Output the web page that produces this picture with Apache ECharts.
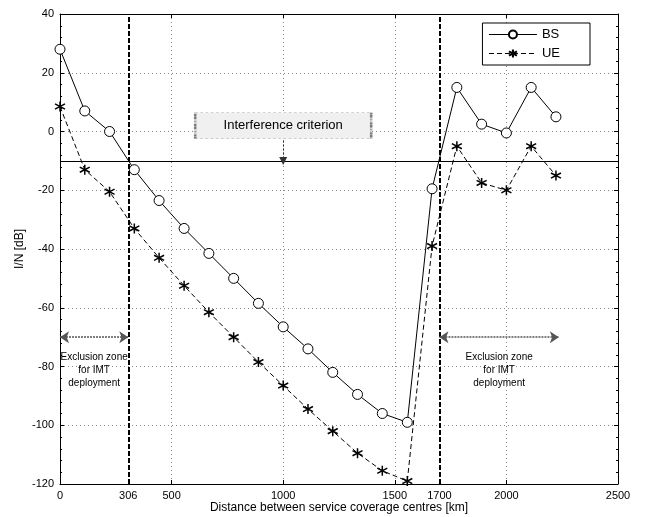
<!DOCTYPE html>
<html>
<head>
<meta charset="utf-8">
<script src="https://cdn.jsdelivr.net/npm/echarts@6/dist/echarts.min.js"></script>
<style>
  html, body { margin: 0; padding: 0; background: #fff; }
  #chart { width: 645px; height: 517px; }
</style>
</head>
<body>
<div id="chart"></div>
<script>
// data
const distances = [0, 111, 222, 333, 444, 556, 667, 778, 889, 1000, 1111, 1222, 1333, 1444, 1556, 1667, 1778, 1889, 2000, 2111, 2222]
const bsValues = [28, 7, 0, -13, -23.5, -33, -41.5, -50, -58.5, -66.5, -74, -82, -89.5, -96, -99, -19.5, 15, 2.5, -0.5, 15, 5]
const ueValues = [8.5, -13, -20.5, -33, -43, -52.5, -61.5, -70, -78.5, -86.5, -94.5, -102, -109.5, -115.5, -119, -39, -5, -17.5, -20, -5, -15]
const xTickLabels = [0, 306, 500, 1000, 1500, 1700, 2000, 2500]
const criterion = -10
const exclusionEdges = [306, 1700]
const rightZoneEnd = 2235
const zoneArrowLevel = -70

const font = 'Liberation Sans, Arial, sans-serif'
const star = 'path://M0,-5L0,5M-4.4,-2.6L4.4,2.6M-4.4,2.6L4.4,-2.6'

let chart = echarts.init(document.querySelector('#chart'))

function pairs(values) {
    return values.map((v, i) => [distances[i], v])
}

const gridLine = { show: true, lineStyle: { type: [1, 3], color: '#888', width: 1 } }
const frame = { show: true, onZero: false, lineStyle: { color: '#000', width: 1 } }
const ticks = { inside: true, length: 4, lineStyle: { color: '#000' } }
const minor = { show: true, splitNumber: 5, length: 2, lineStyle: { color: '#000' } }

const zoneLabel = {
    show: true, position: 'insideMiddleBottom', distance: 14,
    formatter: 'Exclusion zone\nfor IMT\ndeployment',
    fontSize: 10, lineHeight: 13, color: '#000', align: 'center'
}

let option = {
    backgroundColor: '#fff',
    animation: false,
    textStyle: { fontFamily: font },
    grid: { left: 60, right: 27, top: 14, bottom: 33, containLabel: false, outerBoundsMode: 'none' },
    legend: {
        right: 55,
        top: 23,
        orient: 'vertical',
        backgroundColor: '#fff',
        borderColor: '#000',
        borderWidth: 1,
        padding: [5, 30, 5, 6],
        itemGap: 6,
        itemWidth: 48,
        itemHeight: 10,
        lineStyle: { width: 1 },
        textStyle: { fontSize: 13, color: '#000', fontFamily: font },
        data: ['BS', 'UE']
    },
    xAxis: [{
        type: 'value',
        min: 0,
        max: 2500,
        interval: 500,
        name: 'Distance between service coverage centres [km]',
        nameLocation: 'middle',
        nameGap: 18,
        nameMoveOverlap: false,
        nameTextStyle: { fontSize: 12, color: '#000' },
        axisLine: frame,
        axisTick: ticks,
        axisLabel: { customValues: xTickLabels, formatter: (v) => String(v), fontSize: 11, color: '#000', margin: 6 },
        splitLine: gridLine
    }, {
        type: 'value',
        position: 'top',
        min: 0,
        max: 2500,
        interval: 500,
        axisLine: frame,
        axisTick: ticks,
        axisLabel: { show: false },
        splitLine: { show: false }
    }],
    yAxis: [{
        type: 'value',
        min: -120,
        max: 40,
        interval: 20,
        name: 'I/N [dB]',
        nameLocation: 'middle',
        nameGap: 34,
        nameMoveOverlap: false,
        nameTextStyle: { fontSize: 12, color: '#000' },
        axisLine: frame,
        axisTick: ticks,
        minorTick: minor,
        axisLabel: { fontSize: 11, color: '#000', margin: 6 },
        splitLine: gridLine
    }, {
        type: 'value',
        position: 'right',
        min: -120,
        max: 40,
        interval: 20,
        axisLine: frame,
        axisTick: ticks,
        minorTick: minor,
        axisLabel: { show: false },
        splitLine: { show: false }
    }],
    series: [{
        name: 'BS',
        type: 'line',
        data: pairs(bsValues),
        symbol: 'circle',
        symbolSize: 10,
        lineStyle: { color: '#000', width: 1 },
        itemStyle: { color: '#fff', borderColor: '#000', borderWidth: 1 },
        z: 3,
        markLine: {
            silent: true,
            symbol: 'none',
            label: { show: false },
            data: [
                { yAxis: criterion, lineStyle: { type: 'solid', color: '#000', width: 1 } },
                { xAxis: exclusionEdges[0], lineStyle: { type: [5, 2], color: '#000', width: 2 } },
                { xAxis: exclusionEdges[1], lineStyle: { type: [5, 2], color: '#000', width: 2 } },
                [
                    { coord: [1000, -3], symbol: 'none' },
                    { coord: [1000, criterion], symbol: 'triangle', symbolSize: 8, lineStyle: { type: [2, 2], color: '#333', width: 1 } }
                ],
                [
                    { coord: [0, zoneArrowLevel], symbol: 'arrow', symbolSize: 9 },
                    {
                        coord: [exclusionEdges[0], zoneArrowLevel], symbol: 'arrow', symbolSize: 9,
                        lineStyle: { type: [2, 1], color: '#555', width: 1.5 },
                        label: zoneLabel
                    }
                ],
                [
                    { coord: [exclusionEdges[1], zoneArrowLevel], symbol: 'arrow', symbolSize: 9 },
                    {
                        coord: [rightZoneEnd, zoneArrowLevel], symbol: 'arrow', symbolSize: 9,
                        lineStyle: { type: [2, 1], color: '#555', width: 1.5 },
                        label: zoneLabel
                    }
                ]
            ]
        },
        markPoint: {
            silent: true,
            data: [{
                coord: [1000, 2],
                symbol: 'rect',
                symbolSize: [176, 26],
                itemStyle: { color: '#f0f0f0', borderColor: '#555', borderWidth: 1, borderType: 'dotted' },
                label: { show: true, position: 'inside', formatter: 'Interference criterion', fontSize: 13, color: '#000' }
            }]
        }
    }, {
        name: 'UE',
        type: 'line',
        data: pairs(ueValues),
        symbol: star,
        symbolSize: 10,
        lineStyle: { color: '#000', width: 1, type: [5, 3] },
        itemStyle: { color: '#000', borderColor: '#000', borderWidth: 1.5 },
        z: 3
    }]
}

chart.setOption(option)
</script>
</body>
</html>
